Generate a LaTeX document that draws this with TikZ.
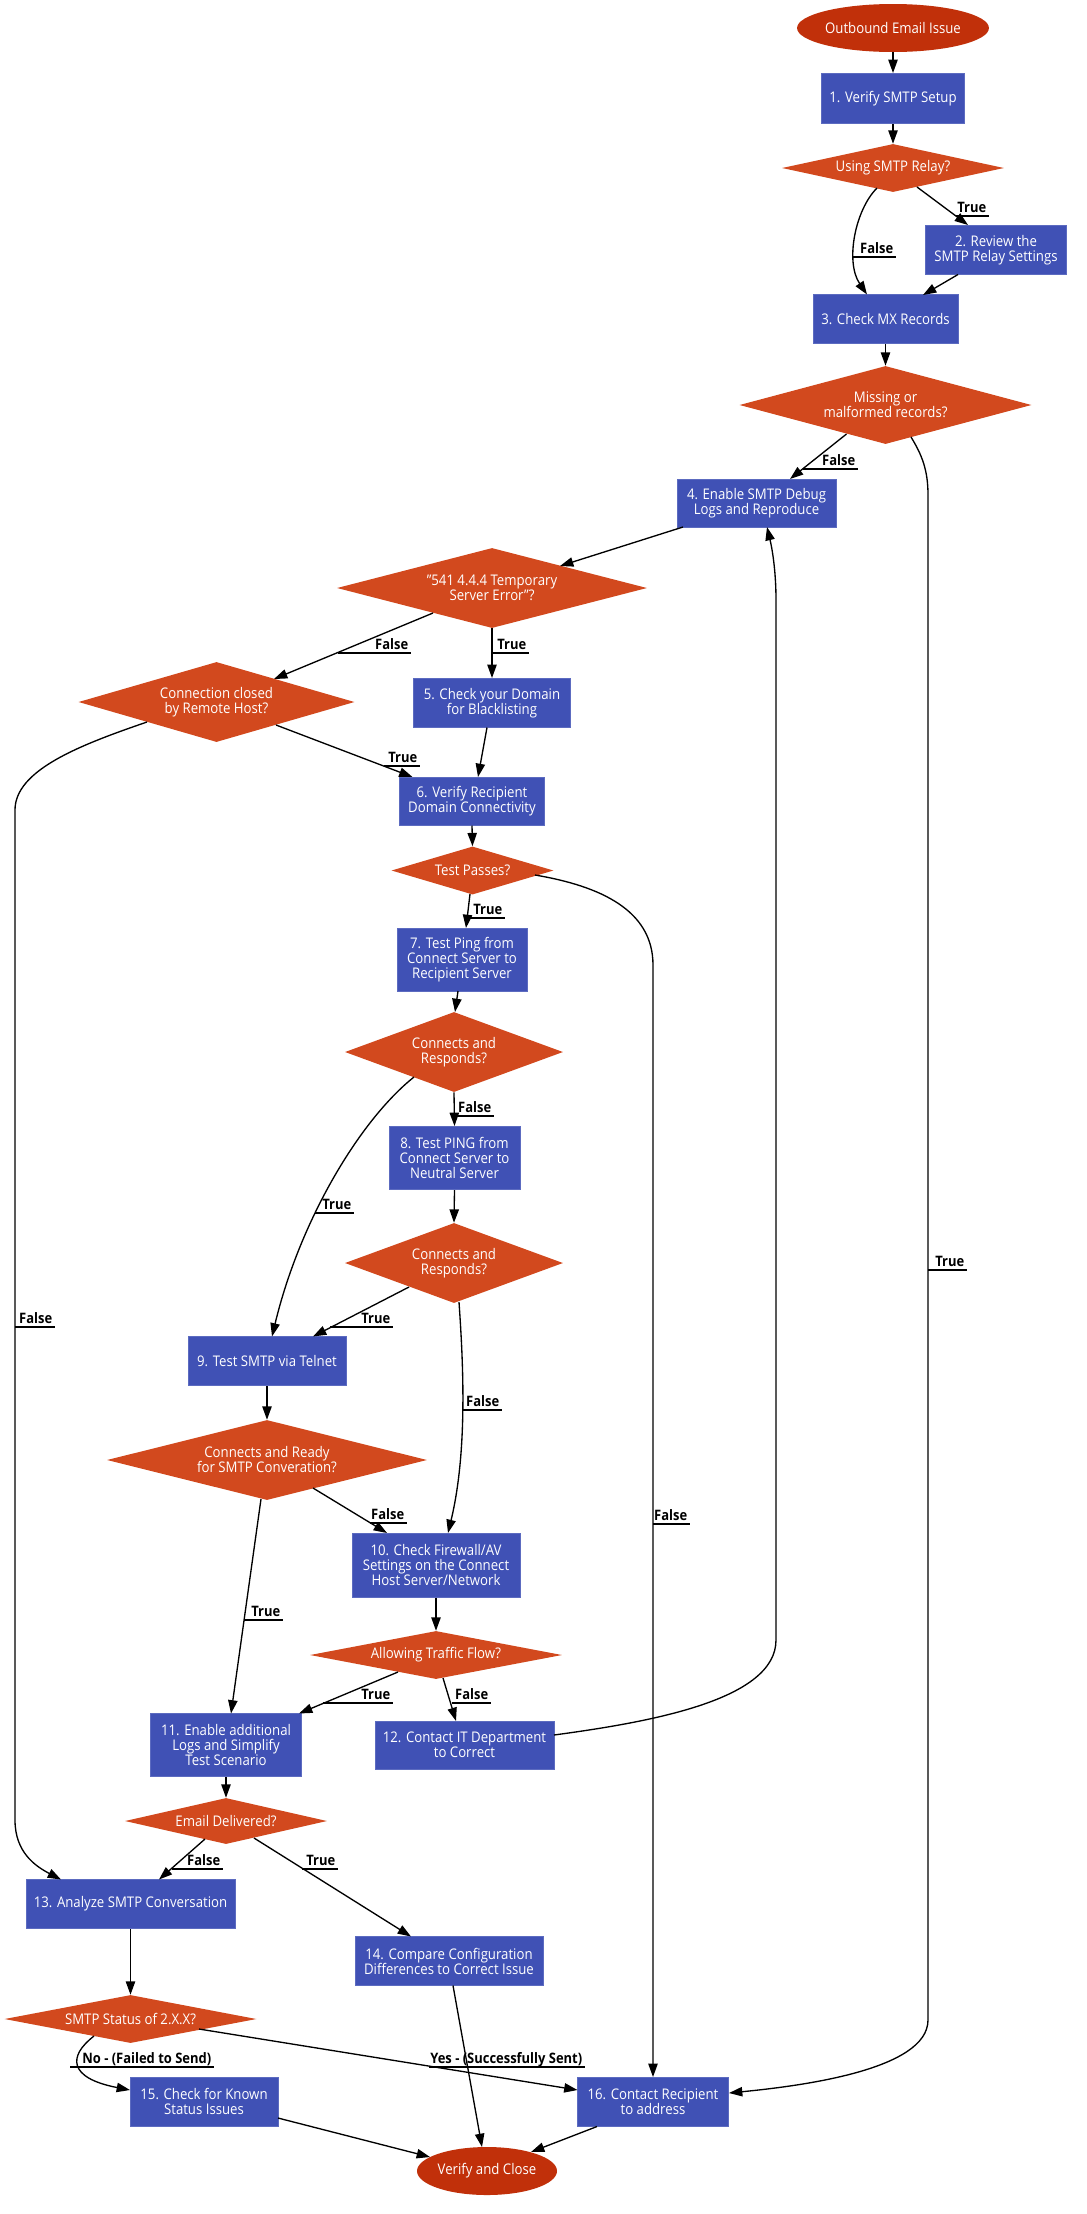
\documentclass[tikz,border=0pt]{standalone}
\usepackage{fontspec}
\setmainfont{Open Sans}[FakeStretch=0.9]
\usetikzlibrary{shapes.geometric,arrows.meta}
\definecolor{boxfill}{HTML}{4051B5}
\definecolor{boxline}{HTML}{5C6BC0}
\definecolor{decfill}{HTML}{D2491E}
\definecolor{termfill}{HTML}{C1300A}
\newcommand\elab[5]{%
  \node[lbl,anchor=base east] (#1) at (#3-2.5,#4-3.5) {#5};
  \draw[deco] (#2,#4) -- (#3,#4);}
\begin{document}
\begin{tikzpicture}[x=0.75pt,y=-0.75pt,
  txt/.style={font=\fontsize{11}{11.25}\selectfont, text=white, align=center, inner sep=0pt},
  box/.style 2 args={txt, rectangle, fill=boxfill, draw=boxline, line width=0.75pt, minimum width={#1*0.75pt}, minimum height={#2*0.75pt}},
  dec/.style 2 args={txt, diamond, fill=decfill, /utils/exec={\pgfmathsetmacro\myasp{#1/#2}}, aspect=\myasp, minimum width={#1*1.5pt}, minimum height={#2*1.5pt}},
  term/.style 2 args={txt, ellipse, fill=termfill, minimum width={#1*0.75pt}, minimum height={#2*0.75pt}},
  lbl/.style={font=\bfseries\fontsize{10.8}{12}\selectfont, text=black, inner sep=0pt},
  deco/.style={line width=1pt},
  conn/.style={line width=1pt, -{Triangle[length=10pt,width=7pt]}},
]
\fill[white] (0,0) rectangle (1086,2214);
\useasboundingbox (0,0) rectangle (1086,2214);

% nodes
\node[term={184}{48}] (start) at (893,28) {Outbound Email Issue};
\node[box={143}{50}] (b1) at (893,98.5) {1. Verify SMTP Setup};
\node[dec={111}{24}] (d1) at (893,168) {Using SMTP Relay?};
\node[box={141}{49}] (b2) at (996,250) {2. Review the\\SMTP Relay Settings};
\node[box={145}{49}] (b3) at (885.5,319) {3. Check MX Records};
\node[dec={146}{39}] (d2) at (885.5,405) {Missing or\\malformed records?};
\node[box={159}{48}] (b4) at (756.5,503) {4. Enable SMTP Debug\\Logs and Reproduce};
\node[dec={155}{40}] (d3) at (492,588) {"541 4.4.4 Temporary\\Server Error"?};
\node[box={157}{49}] (b5) at (492,703) {5. Check your Domain\\for Blacklisting};
\node[dec={138}{40}] (d4) at (216.5,702) {Connection closed\\by Remote Host?};
\node[box={145}{48}] (b6) at (472,801) {6. Verify Recipient\\Domain Connectivity};
\node[dec={81}{24}] (d5) at (472.5,870.5) {Test Passes?};
\node[box={130}{63}] (b7) at (462,959.5) {7. Test Ping from\\Connect Server to\\Recipient Server};
\node[dec={109}{40}] (d6) at (454,1052) {Connects and\\Responds?};
\node[box={131}{63}] (b8) at (454.5,1158) {8. Test PING from\\Connect Server to\\Neutral Server};
\node[dec={109}{40}] (d7) at (454,1263) {Connects and\\Responds?};
\node[box={158}{49}] (b9) at (267,1361) {9. Test SMTP via Telnet};
\node[dec={160}{40}] (d8) at (267,1460) {Connects and Ready\\for SMTP Converation?};
\node[box={168}{64}] (b10) at (436,1565) {10. Check Firewall/AV\\Settings on the Connect\\Host Server/Network};
\node[dec={126}{24}] (d9) at (436,1655) {Allowing Traffic Flow?};
\node[box={151}{63}] (b11) at (226,1745) {11. Enable additional\\Logs and Simplify\\Test Scenario};
\node[box={179}{48}] (b12) at (464.5,1745) {12. Contact IT Department\\to Correct};
\node[dec={101}{23}] (d10) at (226,1821) {Email Delivered?};
\node[box={209}{49}] (b13) at (130.5,1904) {13. Analyze SMTP Conversation};
\node[box={188}{49}] (b14) at (449,1961) {14. Compare Configuration\\Differences to Correct Issue};
\node[dec={126}{24}] (d11) at (130.5,2019) {SMTP Status of 2.X.X?};
\node[box={148}{49}] (b15) at (204,2101.5) {15. Check for Known\\Status Issues};
\node[box={151}{49}] (b16) at (653,2102) {16. Contact Recipient\\to address};
\node[term={140}{48}] (stop) at (487,2171) {Verify and Close};

% connectors
\draw[conn] (start.south) -- (b1.north);
\draw[conn] (b1.south) -- (d1.north);
\draw[conn] ([shift={(24,19)}]d1.center) -- ([shift={(-28,-25)}]b2.center);
\draw[conn] ([shift={(-16,20)}]d1.center) .. controls (855,210) and (845,262) .. ([shift={(-18.5,-24.5)}]b3.center);
\draw[conn] ([shift={(-38,24.5)}]b2.center) -- ([shift={(37.5,-24)}]b3.center);
\draw[conn] (b3.south) -- (d2.north);
\draw[conn] ([shift={(-39,29)}]d2.center) -- ([shift={(33.5,-24)}]b4.center);
\draw[conn] ([shift={(25.5,32)}]d2.center) .. controls (922,455) and (928,470) .. (928,495) -- (928,2020) .. controls (928,2070) and (800,2086) .. ([shift={(76,-9)}]b16.center);
\draw[conn] ([shift={(-73.5,24)}]b4.center) -- ([shift={(68,-22)}]d3.center);
\draw[conn] (d3.south) -- (b5.north);
\draw[conn] ([shift={(-59,25)}]d3.center) -- ([shift={(57.5,-23)}]d4.center);
\draw[conn] ([shift={(59.5,23)}]d4.center) -- ([shift={(-59.5,-24)}]b6.center);
\draw[conn] ([shift={(-5,24.5)}]b5.center) -- ([shift={(6,-24)}]b6.center);
\draw[conn] ([shift={(-69.5,20)}]d4.center) .. controls (80,745) and (15,770) .. (15,810) -- (15,1820) .. controls (15,1852) and (35,1866) .. ([shift={(-69.5,-24.5)}]b13.center);
\draw[conn] (b6.south) -- (d5.north);
\draw[conn] ([shift={(-2.5,23.5)}]d5.center) -- ([shift={(4,-31.5)}]b7.center);
\draw[conn] ([shift={(62.5,4.5)}]d5.center) .. controls (600,886) and (653,910) .. (653,965) -- (b16.north);
\draw[conn] ([shift={(-4,31.5)}]b7.center) -- ([shift={(1,-40)}]d6.center);
\draw[conn] (d6.south) -- (b8.north);
\draw[conn] ([shift={(-40,25)}]d6.center) .. controls (360,1120) and (300,1220) .. ([shift={(5,-24.5)}]b9.center);
\draw[conn] (b8.south) -- (d7.north);
\draw[conn] ([shift={(-45,24)}]d7.center) -- ([shift={(46,-24.5)}]b9.center);
\draw[conn] ([shift={(5,39)}]d7.center) .. controls (463,1360) and (468,1450) .. ([shift={(12,-32)}]b10.center);
\draw[conn] (b9.south) -- (d8.north);
\draw[conn] ([shift={(-6,39)}]d8.center) -- ([shift={(5,-31.5)}]b11.center);
\draw[conn] ([shift={(46,28)}]d8.center) -- ([shift={(-49,-32)}]b10.center);
\draw[conn] (b10.south) -- (d9.north);
\draw[conn] ([shift={(-38,17)}]d9.center) -- ([shift={(73,-31.5)}]b11.center);
\draw[conn] ([shift={(7,23)}]d9.center) -- ([shift={(-8.5,-24)}]b12.center);
\draw[conn] ([shift={(89.5,-10)}]b12.center) .. controls (650,1722) and (776,1700) .. (776,1640) -- (776,600) .. controls (776,570) and (772,548) .. ([shift={(10.5,24)}]b4.center);
\draw[conn] (b11.south) -- (d10.north);
\draw[conn] ([shift={(-21,18)}]d10.center) -- ([shift={(28.5,-24.5)}]b13.center);
\draw[conn] ([shift={(28,17)}]d10.center) -- ([shift={(-38,-24.5)}]b14.center);
\draw[conn] (b13.south) -- (d11.north);
\draw[conn] ([shift={(-36.5,17)}]d11.center) .. controls (68,2056) and (68,2078) .. ([shift={(-74,-11.5)}]b15.center);
\draw[conn] ([shift={(68.5,10)}]d11.center) -- ([shift={(-75.5,-12)}]b16.center);
\draw[conn] ([shift={(4,24.5)}]b14.center) -- ([shift={(-5,-24)}]stop.center);
\draw[conn] ([shift={(74,16.5)}]b15.center) -- ([shift={(-57,-14)}]stop.center);
\draw[conn] ([shift={(-56,24.5)}]b16.center) -- ([shift={(44,-19)}]stop.center);

% edge labels
\elab{l1}{956}{989}{216}{True}
\elab{l2}{853}{896}{257}{False}
\elab{l3}{803}{858}{469}{False}
\elab{l4}{928}{967}{1270}{True}
\elab{l5}{492}{529}{653}{True}
\elab{l6}{338}{411}{653}{False}
\elab{l7}{384}{420}{766}{True}
\elab{l8}{15}{55}{1327}{False}
\elab{l9}{469}{505}{918}{True}
\elab{l10}{653}{690}{1524}{False}
\elab{l11}{454}{494}{1116}{False}
\elab{l12}{315}{354}{1213}{True}
\elab{l13}{330}{393}{1327}{True}
\elab{l14}{463}{502}{1410}{False}
\elab{l15}{244}{283}{1620}{True}
\elab{l16}{370}{407}{1523}{False}
\elab{l17}{323}{393}{1703}{True}
\elab{l18}{452}{491}{1703}{False}
\elab{l19}{172}{223}{1869}{False}
\elab{l20}{302}{338}{1869}{True}
\elab{l21}{70}{214}{2067}{No - (Failed to Send)}
\elab{l22}{429}{585}{2067}{Yes - (Successfully Sent)}
\end{tikzpicture}
\end{document}
